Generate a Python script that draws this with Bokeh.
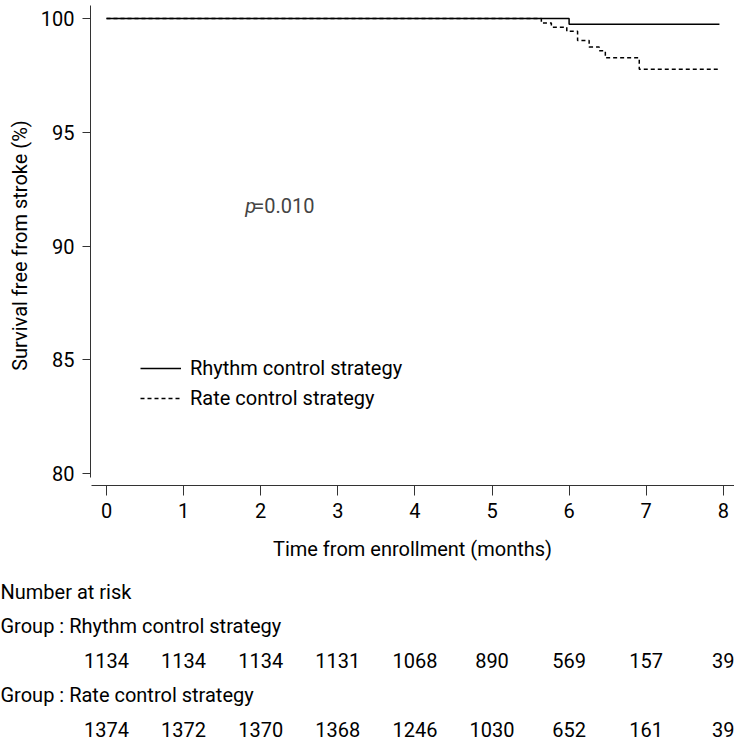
from bokeh.plotting import figure
from bokeh.models import Range1d, FixedTicker, Legend, LegendItem, Label
from bokeh.embed import file_html
from bokeh.resources import INLINE
from bokeh.core.properties import value

# ---------------- data ----------------
months = [0, 1, 2, 3, 4, 5, 6, 7, 8]
y_ticks = [80, 85, 90, 95, 100]

rhythm_time = [0.0, 6.0, 7.95]
rhythm_surv = [100.0, 99.75, 99.75]

rate_time = [0.0, 5.64, 5.77, 5.97, 6.11, 6.26, 6.39, 6.47, 6.91, 7.95]
rate_surv = [100.0, 99.80, 99.62, 99.44, 99.03, 98.75, 98.58, 98.27, 97.77, 97.77]

risk_rhythm = [1134, 1134, 1134, 1131, 1068, 890, 569, 157, 39]
risk_rate = [1374, 1372, 1370, 1368, 1246, 1030, 652, 161, 39]

group_names = ["Rhythm control strategy", "Rate control strategy"]
p_text = "0.010"

# ---------------- style / layout ----------------
FONT = "Roboto"
FS = "20px"
W = 734
LEFT, RIGHT, TOP, BOTTOM = 90, 0, 5, 82
FRAME_H = 480
UPX = 77.1                       # pixels per month
X0 = -16 / UPX
X1 = X0 + (W - LEFT - RIGHT) / UPX
Y0, Y1 = 79.473, 100.571
AX = "#333333"

p = figure(width=W, height=FRAME_H + TOP + BOTTOM,
           x_range=Range1d(X0, X1), y_range=Range1d(Y0, Y1),
           output_backend="svg", toolbar_location=None,
           min_border_left=LEFT, min_border_right=RIGHT,
           min_border_top=TOP, min_border_bottom=BOTTOM)
p.outline_line_color = None
p.grid.visible = False
p.background_fill_color = "white"

xa = p.xaxis[0]
xa.ticker = FixedTicker(ticks=months)
xa.bounds = (X0 + 1 / UPX, X1)
xa.axis_line_color = AX
xa.major_tick_line_color = AX
xa.major_tick_out = 10
xa.major_tick_in = 0
xa.minor_tick_line_color = None
xa.major_label_standoff = 7
xa.major_label_text_font = FONT
xa.major_label_text_font_size = FS
xa.major_label_text_color = "black"
xa.axis_label = "Time from enrollment (months)"
xa.axis_label_standoff = 16
xa.axis_label_text_font = FONT
xa.axis_label_text_font_size = FS
xa.axis_label_text_font_style = "normal"
xa.axis_label_text_color = "black"

ya = p.yaxis[0]
ya.ticker = FixedTicker(ticks=y_ticks)
ya.bounds = (79.82, Y1)
ya.axis_line_color = AX
ya.major_tick_line_color = AX
ya.major_tick_out = 8
ya.major_tick_in = 0
ya.minor_tick_line_color = None
ya.major_label_standoff = 8
ya.major_label_text_font = FONT
ya.major_label_text_font_size = FS
ya.major_label_text_color = "black"
ya.axis_label = "Survival free from stroke (%)"
ya.axis_label_standoff = 6
ya.axis_label_text_font = FONT
ya.axis_label_text_font_size = FS
ya.axis_label_text_font_style = "normal"
ya.axis_label_text_color = "black"

r1 = p.step(rhythm_time, rhythm_surv, mode="after", line_color="black", line_width=1.5)
r2 = p.step(rate_time, rate_surv, mode="after", line_color="black", line_width=1.5,
            line_dash="4 3")

legend = Legend(items=[LegendItem(label=group_names[0], renderers=[r1]),
                       LegendItem(label=group_names[1], renderers=[r2])],
                location=(50, 75), padding=0, margin=0,
                border_line_color=None, background_fill_alpha=0,
                glyph_width=41, glyph_height=20, label_height=20,
                label_standoff=9, spacing=6,
                label_text_font=FONT, label_text_font_size=FS,
                label_text_color="black")
p.add_layout(legend)

p.add_layout(Label(x=1.80, y=91.76, text="p", text_font=FONT, text_font_size=FS,
                   text_font_style="italic", text_align="left", text_baseline="middle"))
p.add_layout(Label(x=1.80, y=91.76, x_offset=8, text="=" + p_text, text_font=FONT,
                   text_font_size=FS, text_align="left", text_baseline="middle"))

# ---------------- number at risk table (separate root, full-width frame) ----------------
t_x0 = X0 - LEFT / UPX
t_x1 = X1 + RIGHT / UPX

t = figure(width=W, height=176, x_range=Range1d(t_x0, t_x1),
           y_range=Range1d(4.406, -0.696), output_backend="svg",
           toolbar_location=None, min_border=0,
           min_border_left=0, min_border_right=0, min_border_top=0, min_border_bottom=0,
           x_axis_location=None, y_axis_location=None)
t.outline_line_color = None
t.grid.visible = False

heads = ["Number at risk", "Group : " + group_names[0], "Group : " + group_names[1]]
t.text(x=[t_x0] * 3, y=[0, 1, 3], text=heads, text_align="left", text_baseline="middle",
       text_font=value(FONT), text_font_size=value(FS), text_color="black")
t.text(x=months, y=[2] * len(months), text=[str(v) for v in risk_rhythm],
       text_align="center", text_baseline="middle",
       text_font=value(FONT), text_font_size=value(FS), text_color="black")
t.text(x=months, y=[4] * len(months), text=[str(v) for v in risk_rate],
       text_align="center", text_baseline="middle",
       text_font=value(FONT), text_font_size=value(FS), text_color="black")

open("out.html", "w").write(file_html([p, t], INLINE))
